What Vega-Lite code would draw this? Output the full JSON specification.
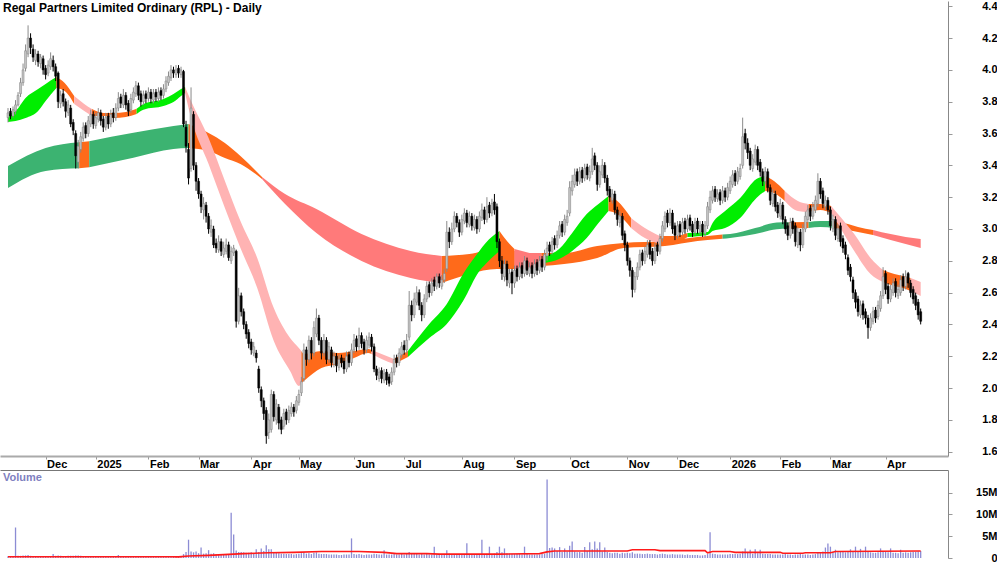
{
"$schema": "https://vega.github.io/schema/vega-lite/v6.json",
"background": "white",
"padding": 0,
"spacing": 1,
"config": {
 "view": {"stroke": null},
 "axis": {"grid": false, "labelFont": "Liberation Sans", "labelFontSize": 11, "labelFontWeight": "bold", "labelColor": "#000000", "domainColor": "#999999", "tickColor": "#999999", "labelOverlap": false},
 "axisY": {"labelAlign": "right", "labelPadding": 45, "tickSize": 4, "labelBaseline": "middle", "labelOverlap": false, "tickCount": 40},
 "axisX": {"tickSize": 3, "labelPadding": -1, "tickCount": 40}
},
"datasets": {
"px": [
{"i":0,"o":3.70,"h":3.76,"l":3.67,"c":3.73,"v":0.4},
{"i":1,"o":3.74,"h":3.76,"l":3.69,"c":3.71,"v":0.3},
{"i":2,"o":3.71,"h":3.77,"l":3.70,"c":3.75,"v":0.3},
{"i":3,"o":3.74,"h":3.81,"l":3.72,"c":3.78,"v":7.0},
{"i":4,"o":3.78,"h":3.86,"l":3.77,"c":3.84,"v":0.5},
{"i":5,"o":3.85,"h":3.95,"l":3.83,"c":3.92,"v":0.5},
{"i":6,"o":3.92,"h":4.04,"l":3.90,"c":4.00,"v":0.6},
{"i":7,"o":4.01,"h":4.16,"l":3.99,"c":4.12,"v":0.6},
{"i":8,"o":4.10,"h":4.28,"l":4.08,"c":4.20,"v":0.7},
{"i":9,"o":4.20,"h":4.23,"l":4.10,"c":4.14,"v":0.5},
{"i":10,"o":4.13,"h":4.16,"l":4.05,"c":4.08,"v":0.4},
{"i":11,"o":4.06,"h":4.13,"l":4.03,"c":4.10,"v":0.4},
{"i":12,"o":4.10,"h":4.12,"l":4.02,"c":4.05,"v":0.4},
{"i":13,"o":4.04,"h":4.10,"l":4.01,"c":4.08,"v":0.3},
{"i":14,"o":4.07,"h":4.09,"l":3.97,"c":4.00,"v":0.4},
{"i":15,"o":4.01,"h":4.03,"l":3.94,"c":3.97,"v":0.4},
{"i":16,"o":3.98,"h":4.06,"l":3.96,"c":4.03,"v":0.3},
{"i":17,"o":4.02,"h":4.11,"l":4.00,"c":4.07,"v":0.4},
{"i":18,"o":4.06,"h":4.09,"l":3.99,"c":4.02,"v":0.9},
{"i":19,"o":4.02,"h":4.04,"l":3.93,"c":3.96,"v":0.5},
{"i":20,"o":3.98,"h":3.99,"l":3.76,"c":3.80,"v":0.6},
{"i":21,"o":3.79,"h":3.87,"l":3.76,"c":3.84,"v":0.5},
{"i":22,"o":3.85,"h":3.88,"l":3.77,"c":3.80,"v":0.4},
{"i":23,"o":3.80,"h":3.82,"l":3.70,"c":3.74,"v":0.4},
{"i":24,"o":3.73,"h":3.81,"l":3.71,"c":3.78,"v":0.5},
{"i":25,"o":3.76,"h":3.78,"l":3.64,"c":3.66,"v":0.5},
{"i":26,"o":3.67,"h":3.69,"l":3.59,"c":3.62,"v":0.5},
{"i":27,"o":3.60,"h":3.62,"l":3.38,"c":3.46,"v":0.6},
{"i":28,"o":3.42,"h":3.56,"l":3.38,"c":3.52,"v":0.6},
{"i":29,"o":3.50,"h":3.61,"l":3.48,"c":3.58,"v":0.5},
{"i":30,"o":3.57,"h":3.67,"l":3.55,"c":3.64,"v":0.4},
{"i":31,"o":3.65,"h":3.67,"l":3.57,"c":3.60,"v":0.4},
{"i":32,"o":3.60,"h":3.71,"l":3.58,"c":3.68,"v":0.4},
{"i":33,"o":3.66,"h":3.75,"l":3.64,"c":3.72,"v":0.4},
{"i":34,"o":3.72,"h":3.74,"l":3.63,"c":3.66,"v":0.3},
{"i":35,"o":3.65,"h":3.73,"l":3.63,"c":3.70,"v":0.3},
{"i":36,"o":3.69,"h":3.76,"l":3.67,"c":3.73,"v":0.3},
{"i":37,"o":3.73,"h":3.75,"l":3.65,"c":3.68,"v":0.4},
{"i":38,"o":3.69,"h":3.71,"l":3.61,"c":3.64,"v":0.4},
{"i":39,"o":3.64,"h":3.73,"l":3.62,"c":3.70,"v":0.3},
{"i":40,"o":3.71,"h":3.73,"l":3.63,"c":3.66,"v":0.3},
{"i":41,"o":3.66,"h":3.75,"l":3.64,"c":3.72,"v":0.4},
{"i":42,"o":3.73,"h":3.76,"l":3.67,"c":3.70,"v":0.3},
{"i":43,"o":3.70,"h":3.79,"l":3.68,"c":3.76,"v":0.4},
{"i":44,"o":3.76,"h":3.86,"l":3.74,"c":3.82,"v":0.7},
{"i":45,"o":3.83,"h":3.85,"l":3.76,"c":3.79,"v":0.4},
{"i":46,"o":3.78,"h":3.88,"l":3.76,"c":3.84,"v":0.4},
{"i":47,"o":3.84,"h":3.86,"l":3.75,"c":3.78,"v":0.3},
{"i":48,"o":3.79,"h":3.81,"l":3.71,"c":3.74,"v":0.3},
{"i":49,"o":3.75,"h":3.85,"l":3.73,"c":3.82,"v":0.4},
{"i":50,"o":3.81,"h":3.89,"l":3.79,"c":3.86,"v":0.4},
{"i":51,"o":3.85,"h":3.93,"l":3.83,"c":3.90,"v":0.4},
{"i":52,"o":3.90,"h":3.92,"l":3.81,"c":3.84,"v":0.3},
{"i":53,"o":3.85,"h":3.87,"l":3.77,"c":3.80,"v":0.3},
{"i":54,"o":3.80,"h":3.87,"l":3.78,"c":3.84,"v":0.3},
{"i":55,"o":3.85,"h":3.87,"l":3.79,"c":3.82,"v":0.3},
{"i":56,"o":3.82,"h":3.89,"l":3.80,"c":3.86,"v":0.3},
{"i":57,"o":3.86,"h":3.88,"l":3.79,"c":3.82,"v":0.3},
{"i":58,"o":3.81,"h":3.88,"l":3.79,"c":3.85,"v":0.3},
{"i":59,"o":3.86,"h":3.88,"l":3.80,"c":3.83,"v":0.3},
{"i":60,"o":3.82,"h":3.89,"l":3.80,"c":3.86,"v":0.3},
{"i":61,"o":3.87,"h":3.89,"l":3.81,"c":3.84,"v":0.3},
{"i":62,"o":3.84,"h":3.91,"l":3.82,"c":3.88,"v":0.4},
{"i":63,"o":3.88,"h":3.96,"l":3.86,"c":3.93,"v":0.4},
{"i":64,"o":3.92,"h":3.99,"l":3.90,"c":3.96,"v":0.4},
{"i":65,"o":3.95,"h":4.03,"l":3.93,"c":4.00,"v":0.3},
{"i":66,"o":4.00,"h":4.02,"l":3.95,"c":3.98,"v":0.3},
{"i":67,"o":3.97,"h":4.03,"l":3.95,"c":4.00,"v":0.3},
{"i":68,"o":4.01,"h":4.03,"l":3.95,"c":3.98,"v":0.3},
{"i":69,"o":3.97,"h":4.02,"l":3.95,"c":4.00,"v":0.4},
{"i":70,"o":3.99,"h":4.00,"l":3.64,"c":3.66,"v":0.9},
{"i":71,"o":3.64,"h":3.68,"l":3.48,"c":3.52,"v":1.4},
{"i":72,"o":3.50,"h":3.54,"l":3.28,"c":3.32,"v":4.2},
{"i":73,"o":3.38,"h":3.89,"l":3.36,"c":3.76,"v":1.5},
{"i":74,"o":3.72,"h":3.74,"l":3.37,"c":3.40,"v":1.3},
{"i":75,"o":3.40,"h":3.42,"l":3.24,"c":3.30,"v":1.5},
{"i":76,"o":3.30,"h":3.32,"l":3.19,"c":3.22,"v":1.1},
{"i":77,"o":3.22,"h":3.24,"l":3.10,"c":3.14,"v":2.4},
{"i":78,"o":3.12,"h":3.20,"l":3.06,"c":3.16,"v":1.0},
{"i":79,"o":3.15,"h":3.17,"l":3.04,"c":3.08,"v":1.1},
{"i":80,"o":3.08,"h":3.10,"l":2.97,"c":3.00,"v":1.8},
{"i":81,"o":2.98,"h":3.06,"l":2.95,"c":3.02,"v":1.0},
{"i":82,"o":3.00,"h":3.02,"l":2.88,"c":2.90,"v":1.1},
{"i":83,"o":2.91,"h":2.94,"l":2.85,"c":2.88,"v":0.9},
{"i":84,"o":2.87,"h":2.96,"l":2.85,"c":2.92,"v":0.9},
{"i":85,"o":2.92,"h":2.94,"l":2.83,"c":2.86,"v":0.8},
{"i":86,"o":2.84,"h":2.92,"l":2.82,"c":2.88,"v":0.8},
{"i":87,"o":2.86,"h":2.94,"l":2.84,"c":2.90,"v":0.9},
{"i":88,"o":2.90,"h":2.92,"l":2.80,"c":2.82,"v":0.8},
{"i":89,"o":2.80,"h":2.89,"l":2.78,"c":2.86,"v":10.4},
{"i":90,"o":2.85,"h":2.90,"l":2.83,"c":2.88,"v":5.4},
{"i":91,"o":2.86,"h":2.87,"l":2.38,"c":2.42,"v":1.7},
{"i":92,"o":2.42,"h":2.63,"l":2.40,"c":2.58,"v":1.4},
{"i":93,"o":2.58,"h":2.60,"l":2.45,"c":2.48,"v":1.4},
{"i":94,"o":2.48,"h":2.50,"l":2.37,"c":2.40,"v":1.3},
{"i":95,"o":2.40,"h":2.42,"l":2.31,"c":2.34,"v":1.2},
{"i":96,"o":2.35,"h":2.37,"l":2.25,"c":2.28,"v":1.2},
{"i":97,"o":2.29,"h":2.31,"l":2.21,"c":2.24,"v":1.3},
{"i":98,"o":2.22,"h":2.29,"l":2.20,"c":2.26,"v":1.1},
{"i":99,"o":2.22,"h":2.24,"l":2.16,"c":2.19,"v":2.0},
{"i":100,"o":2.12,"h":2.14,"l":1.97,"c":2.00,"v":1.4},
{"i":101,"o":1.99,"h":2.01,"l":1.88,"c":1.92,"v":2.2},
{"i":102,"o":1.92,"h":1.94,"l":1.80,"c":1.84,"v":1.6},
{"i":103,"o":1.86,"h":1.88,"l":1.65,"c":1.70,"v":2.9},
{"i":104,"o":1.72,"h":1.84,"l":1.68,"c":1.80,"v":2.0},
{"i":105,"o":1.74,"h":1.99,"l":1.72,"c":1.96,"v":2.0},
{"i":106,"o":1.96,"h":1.98,"l":1.79,"c":1.82,"v":1.4},
{"i":107,"o":1.80,"h":1.93,"l":1.77,"c":1.90,"v":1.3},
{"i":108,"o":1.88,"h":1.90,"l":1.74,"c":1.78,"v":1.1},
{"i":109,"o":1.80,"h":1.82,"l":1.71,"c":1.74,"v":1.0},
{"i":110,"o":1.76,"h":1.87,"l":1.74,"c":1.84,"v":1.0},
{"i":111,"o":1.85,"h":1.87,"l":1.77,"c":1.80,"v":0.9},
{"i":112,"o":1.80,"h":1.89,"l":1.78,"c":1.86,"v":0.9},
{"i":113,"o":1.84,"h":1.91,"l":1.82,"c":1.88,"v":0.9},
{"i":114,"o":1.88,"h":1.90,"l":1.82,"c":1.85,"v":0.8},
{"i":115,"o":1.86,"h":1.95,"l":1.84,"c":1.92,"v":0.9},
{"i":116,"o":1.91,"h":1.99,"l":1.89,"c":1.96,"v":1.0},
{"i":117,"o":1.97,"h":2.07,"l":1.95,"c":2.04,"v":1.1},
{"i":118,"o":2.06,"h":2.28,"l":2.04,"c":2.24,"v":1.3},
{"i":119,"o":2.24,"h":2.26,"l":2.14,"c":2.18,"v":1.0},
{"i":120,"o":2.18,"h":2.33,"l":2.16,"c":2.30,"v":1.1},
{"i":121,"o":2.30,"h":2.32,"l":2.18,"c":2.22,"v":0.9},
{"i":122,"o":2.22,"h":2.42,"l":2.20,"c":2.38,"v":1.2},
{"i":123,"o":2.34,"h":2.50,"l":2.32,"c":2.44,"v":1.3},
{"i":124,"o":2.44,"h":2.46,"l":2.27,"c":2.30,"v":1.0},
{"i":125,"o":2.30,"h":2.32,"l":2.18,"c":2.22,"v":0.9},
{"i":126,"o":2.22,"h":2.34,"l":2.20,"c":2.30,"v":0.9},
{"i":127,"o":2.30,"h":2.32,"l":2.15,"c":2.18,"v":0.9},
{"i":128,"o":2.18,"h":2.29,"l":2.16,"c":2.26,"v":0.8},
{"i":129,"o":2.24,"h":2.26,"l":2.13,"c":2.16,"v":0.8},
{"i":130,"o":2.15,"h":2.23,"l":2.13,"c":2.20,"v":0.8},
{"i":131,"o":2.20,"h":2.22,"l":2.10,"c":2.14,"v":0.8},
{"i":132,"o":2.13,"h":2.21,"l":2.11,"c":2.18,"v":0.7},
{"i":133,"o":2.19,"h":2.21,"l":2.13,"c":2.16,"v":0.7},
{"i":134,"o":2.17,"h":2.19,"l":2.09,"c":2.12,"v":0.8},
{"i":135,"o":2.12,"h":2.23,"l":2.10,"c":2.20,"v":0.8},
{"i":136,"o":2.21,"h":2.23,"l":2.13,"c":2.16,"v":0.8},
{"i":137,"o":2.16,"h":2.28,"l":2.14,"c":2.24,"v":4.5},
{"i":138,"o":2.24,"h":2.34,"l":2.22,"c":2.30,"v":0.9},
{"i":139,"o":2.31,"h":2.33,"l":2.23,"c":2.26,"v":0.8},
{"i":140,"o":2.26,"h":2.38,"l":2.24,"c":2.33,"v":0.9},
{"i":141,"o":2.33,"h":2.35,"l":2.25,"c":2.28,"v":0.8},
{"i":142,"o":2.29,"h":2.31,"l":2.21,"c":2.24,"v":0.7},
{"i":143,"o":2.24,"h":2.33,"l":2.22,"c":2.30,"v":0.8},
{"i":144,"o":2.27,"h":2.35,"l":2.25,"c":2.32,"v":0.8},
{"i":145,"o":2.32,"h":2.34,"l":2.23,"c":2.26,"v":0.8},
{"i":146,"o":2.26,"h":2.28,"l":2.10,"c":2.12,"v":1.0},
{"i":147,"o":2.12,"h":2.14,"l":2.05,"c":2.08,"v":0.9},
{"i":148,"o":2.06,"h":2.13,"l":2.04,"c":2.10,"v":0.8},
{"i":149,"o":2.11,"h":2.13,"l":2.03,"c":2.06,"v":0.8},
{"i":150,"o":2.05,"h":2.12,"l":2.03,"c":2.09,"v":1.8},
{"i":151,"o":2.10,"h":2.12,"l":2.02,"c":2.05,"v":0.8},
{"i":152,"o":2.07,"h":2.09,"l":2.01,"c":2.03,"v":0.8},
{"i":153,"o":2.04,"h":2.13,"l":2.02,"c":2.10,"v":0.8},
{"i":154,"o":2.10,"h":2.21,"l":2.08,"c":2.18,"v":0.9},
{"i":155,"o":2.19,"h":2.21,"l":2.13,"c":2.16,"v":0.8},
{"i":156,"o":2.16,"h":2.25,"l":2.14,"c":2.22,"v":0.8},
{"i":157,"o":2.21,"h":2.29,"l":2.19,"c":2.26,"v":0.9},
{"i":158,"o":2.27,"h":2.30,"l":2.21,"c":2.24,"v":0.8},
{"i":159,"o":2.24,"h":2.34,"l":2.22,"c":2.30,"v":0.9},
{"i":160,"o":2.32,"h":2.61,"l":2.30,"c":2.52,"v":1.4},
{"i":161,"o":2.52,"h":2.55,"l":2.42,"c":2.46,"v":1.0},
{"i":162,"o":2.46,"h":2.60,"l":2.44,"c":2.56,"v":1.0},
{"i":163,"o":2.54,"h":2.64,"l":2.52,"c":2.60,"v":0.9},
{"i":164,"o":2.60,"h":2.62,"l":2.49,"c":2.52,"v":0.8},
{"i":165,"o":2.52,"h":2.54,"l":2.42,"c":2.46,"v":0.9},
{"i":166,"o":2.46,"h":2.59,"l":2.44,"c":2.56,"v":0.8},
{"i":167,"o":2.56,"h":2.67,"l":2.54,"c":2.64,"v":0.9},
{"i":168,"o":2.65,"h":2.67,"l":2.57,"c":2.60,"v":0.8},
{"i":169,"o":2.60,"h":2.69,"l":2.58,"c":2.66,"v":0.8},
{"i":170,"o":2.68,"h":2.70,"l":2.61,"c":2.64,"v":2.6},
{"i":171,"o":2.64,"h":2.72,"l":2.62,"c":2.70,"v":0.8},
{"i":172,"o":2.70,"h":2.72,"l":2.63,"c":2.66,"v":0.8},
{"i":173,"o":2.64,"h":2.71,"l":2.62,"c":2.68,"v":0.8},
{"i":174,"o":2.68,"h":2.75,"l":2.66,"c":2.72,"v":0.9},
{"i":175,"o":2.75,"h":3.05,"l":2.73,"c":2.98,"v":1.8},
{"i":176,"o":2.98,"h":3.01,"l":2.88,"c":2.92,"v":1.0},
{"i":177,"o":2.92,"h":3.04,"l":2.90,"c":3.00,"v":0.9},
{"i":178,"o":3.00,"h":3.11,"l":2.98,"c":3.08,"v":0.9},
{"i":179,"o":3.08,"h":3.10,"l":3.01,"c":3.04,"v":0.8},
{"i":180,"o":3.04,"h":3.06,"l":2.95,"c":2.98,"v":0.8},
{"i":181,"o":2.98,"h":3.09,"l":2.96,"c":3.06,"v":0.8},
{"i":182,"o":3.05,"h":3.13,"l":3.03,"c":3.10,"v":0.9},
{"i":183,"o":3.10,"h":3.12,"l":3.01,"c":3.04,"v":3.4},
{"i":184,"o":3.03,"h":3.11,"l":3.01,"c":3.08,"v":0.9},
{"i":185,"o":3.08,"h":3.10,"l":2.99,"c":3.02,"v":0.8},
{"i":186,"o":3.01,"h":3.09,"l":2.99,"c":3.06,"v":0.8},
{"i":187,"o":3.06,"h":3.08,"l":2.97,"c":3.00,"v":0.8},
{"i":188,"o":3.00,"h":3.11,"l":2.98,"c":3.08,"v":0.9},
{"i":189,"o":3.07,"h":3.16,"l":3.05,"c":3.12,"v":4.2},
{"i":190,"o":3.12,"h":3.14,"l":3.03,"c":3.06,"v":0.9},
{"i":191,"o":3.06,"h":3.20,"l":3.04,"c":3.14,"v":1.0},
{"i":192,"o":3.15,"h":3.17,"l":3.07,"c":3.10,"v":2.6},
{"i":193,"o":3.10,"h":3.19,"l":3.08,"c":3.16,"v":0.9},
{"i":194,"o":3.17,"h":3.22,"l":3.09,"c":3.12,"v":1.0},
{"i":195,"o":3.14,"h":3.16,"l":2.88,"c":2.92,"v":1.4},
{"i":196,"o":2.92,"h":2.94,"l":2.76,"c":2.80,"v":2.6},
{"i":197,"o":2.80,"h":2.83,"l":2.68,"c":2.72,"v":1.3},
{"i":198,"o":2.70,"h":2.81,"l":2.67,"c":2.78,"v":2.2},
{"i":199,"o":2.78,"h":2.80,"l":2.64,"c":2.68,"v":1.1},
{"i":200,"o":2.66,"h":2.75,"l":2.63,"c":2.72,"v":1.0},
{"i":201,"o":2.73,"h":2.75,"l":2.59,"c":2.66,"v":1.0},
{"i":202,"o":2.66,"h":2.77,"l":2.63,"c":2.74,"v":0.9},
{"i":203,"o":2.75,"h":2.77,"l":2.67,"c":2.70,"v":0.9},
{"i":204,"o":2.70,"h":2.79,"l":2.68,"c":2.76,"v":0.9},
{"i":205,"o":2.77,"h":2.79,"l":2.69,"c":2.72,"v":0.8},
{"i":206,"o":2.72,"h":2.83,"l":2.70,"c":2.80,"v":2.6},
{"i":207,"o":2.80,"h":2.82,"l":2.71,"c":2.74,"v":0.9},
{"i":208,"o":2.72,"h":2.79,"l":2.70,"c":2.76,"v":0.8},
{"i":209,"o":2.77,"h":2.79,"l":2.69,"c":2.72,"v":0.8},
{"i":210,"o":2.72,"h":2.81,"l":2.70,"c":2.78,"v":0.8},
{"i":211,"o":2.79,"h":2.81,"l":2.71,"c":2.74,"v":0.8},
{"i":212,"o":2.74,"h":2.83,"l":2.72,"c":2.80,"v":0.8},
{"i":213,"o":2.81,"h":2.83,"l":2.73,"c":2.76,"v":0.9},
{"i":214,"o":2.76,"h":2.87,"l":2.74,"c":2.84,"v":1.0},
{"i":215,"o":2.83,"h":2.92,"l":2.80,"c":2.88,"v":18.0},
{"i":216,"o":2.90,"h":2.92,"l":2.83,"c":2.86,"v":2.3},
{"i":217,"o":2.86,"h":2.95,"l":2.84,"c":2.92,"v":2.4},
{"i":218,"o":2.94,"h":2.96,"l":2.87,"c":2.90,"v":2.2},
{"i":219,"o":2.90,"h":2.99,"l":2.88,"c":2.96,"v":1.6},
{"i":220,"o":2.96,"h":3.05,"l":2.94,"c":3.02,"v":2.5},
{"i":221,"o":3.03,"h":3.05,"l":2.95,"c":2.98,"v":1.4},
{"i":222,"o":2.98,"h":3.09,"l":2.96,"c":3.06,"v":2.2},
{"i":223,"o":3.04,"h":3.12,"l":3.02,"c":3.08,"v":1.5},
{"i":224,"o":3.10,"h":3.30,"l":3.08,"c":3.26,"v":2.8},
{"i":225,"o":3.24,"h":3.34,"l":3.21,"c":3.30,"v":3.8},
{"i":226,"o":3.28,"h":3.38,"l":3.26,"c":3.34,"v":1.5},
{"i":227,"o":3.36,"h":3.38,"l":3.27,"c":3.30,"v":1.3},
{"i":228,"o":3.30,"h":3.39,"l":3.28,"c":3.36,"v":1.4},
{"i":229,"o":3.37,"h":3.39,"l":3.29,"c":3.32,"v":1.2},
{"i":230,"o":3.32,"h":3.41,"l":3.30,"c":3.38,"v":2.5},
{"i":231,"o":3.39,"h":3.41,"l":3.31,"c":3.34,"v":1.6},
{"i":232,"o":3.32,"h":3.40,"l":3.30,"c":3.36,"v":3.6},
{"i":233,"o":3.36,"h":3.51,"l":3.34,"c":3.44,"v":2.0},
{"i":234,"o":3.46,"h":3.48,"l":3.37,"c":3.40,"v":3.8},
{"i":235,"o":3.40,"h":3.42,"l":3.24,"c":3.28,"v":2.2},
{"i":236,"o":3.28,"h":3.40,"l":3.26,"c":3.36,"v":3.6},
{"i":237,"o":3.34,"h":3.44,"l":3.32,"c":3.40,"v":1.5},
{"i":238,"o":3.40,"h":3.42,"l":3.29,"c":3.32,"v":2.4},
{"i":239,"o":3.32,"h":3.34,"l":3.21,"c":3.24,"v":1.4},
{"i":240,"o":3.25,"h":3.27,"l":3.17,"c":3.20,"v":1.2},
{"i":241,"o":3.18,"h":3.25,"l":3.16,"c":3.22,"v":1.1},
{"i":242,"o":3.22,"h":3.24,"l":3.09,"c":3.12,"v":1.2},
{"i":243,"o":3.12,"h":3.14,"l":3.02,"c":3.06,"v":1.2},
{"i":244,"o":3.04,"h":3.11,"l":3.01,"c":3.08,"v":1.0},
{"i":245,"o":3.08,"h":3.10,"l":2.93,"c":2.96,"v":1.2},
{"i":246,"o":2.97,"h":2.99,"l":2.86,"c":2.90,"v":1.1},
{"i":247,"o":2.90,"h":2.92,"l":2.77,"c":2.80,"v":1.2},
{"i":248,"o":2.80,"h":2.82,"l":2.70,"c":2.74,"v":1.1},
{"i":249,"o":2.74,"h":2.76,"l":2.57,"c":2.62,"v":1.3},
{"i":250,"o":2.62,"h":2.73,"l":2.60,"c":2.70,"v":1.0},
{"i":251,"o":2.70,"h":2.79,"l":2.68,"c":2.76,"v":1.0},
{"i":252,"o":2.76,"h":2.87,"l":2.74,"c":2.84,"v":1.0},
{"i":253,"o":2.85,"h":2.87,"l":2.77,"c":2.80,"v":0.9},
{"i":254,"o":2.80,"h":2.89,"l":2.78,"c":2.86,"v":0.9},
{"i":255,"o":2.84,"h":2.93,"l":2.82,"c":2.90,"v":1.0},
{"i":256,"o":2.91,"h":2.93,"l":2.81,"c":2.84,"v":0.9},
{"i":257,"o":2.86,"h":2.88,"l":2.77,"c":2.80,"v":0.9},
{"i":258,"o":2.80,"h":2.91,"l":2.78,"c":2.88,"v":0.9},
{"i":259,"o":2.90,"h":2.92,"l":2.83,"c":2.86,"v":0.8},
{"i":260,"o":2.86,"h":2.97,"l":2.84,"c":2.94,"v":0.9},
{"i":261,"o":2.94,"h":3.05,"l":2.92,"c":3.02,"v":1.0},
{"i":262,"o":3.00,"h":3.11,"l":2.98,"c":3.08,"v":0.9},
{"i":263,"o":3.10,"h":3.12,"l":3.01,"c":3.04,"v":0.8},
{"i":264,"o":3.04,"h":3.13,"l":3.02,"c":3.10,"v":0.8},
{"i":265,"o":3.10,"h":3.12,"l":2.97,"c":3.00,"v":0.9},
{"i":266,"o":3.02,"h":3.04,"l":2.93,"c":2.96,"v":0.8},
{"i":267,"o":2.96,"h":3.05,"l":2.94,"c":3.02,"v":0.8},
{"i":268,"o":3.03,"h":3.05,"l":2.95,"c":2.98,"v":0.8},
{"i":269,"o":2.98,"h":3.07,"l":2.96,"c":3.04,"v":0.8},
{"i":270,"o":3.05,"h":3.07,"l":2.97,"c":3.00,"v":0.7},
{"i":271,"o":3.00,"h":3.09,"l":2.98,"c":3.06,"v":0.8},
{"i":272,"o":3.07,"h":3.09,"l":2.99,"c":3.02,"v":0.7},
{"i":273,"o":3.03,"h":3.05,"l":2.95,"c":2.98,"v":0.7},
{"i":274,"o":2.98,"h":3.07,"l":2.96,"c":3.04,"v":0.7},
{"i":275,"o":3.05,"h":3.07,"l":2.97,"c":3.00,"v":0.7},
{"i":276,"o":2.98,"h":3.05,"l":2.96,"c":3.02,"v":0.6},
{"i":277,"o":3.03,"h":3.05,"l":2.95,"c":2.98,"v":0.6},
{"i":278,"o":2.97,"h":3.05,"l":2.95,"c":3.02,"v":0.7},
{"i":279,"o":3.02,"h":3.17,"l":3.00,"c":3.14,"v":0.9},
{"i":280,"o":3.12,"h":3.24,"l":3.10,"c":3.20,"v":5.9},
{"i":281,"o":3.18,"h":3.27,"l":3.16,"c":3.24,"v":1.0},
{"i":282,"o":3.25,"h":3.27,"l":3.17,"c":3.20,"v":0.9},
{"i":283,"o":3.19,"h":3.25,"l":3.17,"c":3.22,"v":0.8},
{"i":284,"o":3.23,"h":3.25,"l":3.15,"c":3.18,"v":0.8},
{"i":285,"o":3.18,"h":3.27,"l":3.16,"c":3.24,"v":0.8},
{"i":286,"o":3.24,"h":3.26,"l":3.17,"c":3.20,"v":0.8},
{"i":287,"o":3.20,"h":3.29,"l":3.18,"c":3.26,"v":0.8},
{"i":288,"o":3.24,"h":3.33,"l":3.22,"c":3.30,"v":0.9},
{"i":289,"o":3.28,"h":3.37,"l":3.26,"c":3.34,"v":0.9},
{"i":290,"o":3.35,"h":3.37,"l":3.27,"c":3.30,"v":0.9},
{"i":291,"o":3.30,"h":3.39,"l":3.28,"c":3.36,"v":0.9},
{"i":292,"o":3.33,"h":3.41,"l":3.31,"c":3.38,"v":1.0},
{"i":293,"o":3.40,"h":3.70,"l":3.38,"c":3.58,"v":1.5},
{"i":294,"o":3.60,"h":3.63,"l":3.50,"c":3.54,"v":2.2},
{"i":295,"o":3.54,"h":3.57,"l":3.44,"c":3.48,"v":1.2},
{"i":296,"o":3.49,"h":3.51,"l":3.37,"c":3.40,"v":1.9},
{"i":297,"o":3.38,"h":3.47,"l":3.36,"c":3.44,"v":1.0},
{"i":298,"o":3.42,"h":3.53,"l":3.40,"c":3.50,"v":2.0},
{"i":299,"o":3.50,"h":3.52,"l":3.37,"c":3.40,"v":1.1},
{"i":300,"o":3.42,"h":3.44,"l":3.33,"c":3.36,"v":1.9},
{"i":301,"o":3.36,"h":3.38,"l":3.27,"c":3.30,"v":1.0},
{"i":302,"o":3.30,"h":3.39,"l":3.28,"c":3.36,"v":0.9},
{"i":303,"o":3.36,"h":3.38,"l":3.23,"c":3.26,"v":0.9},
{"i":304,"o":3.26,"h":3.28,"l":3.15,"c":3.18,"v":0.9},
{"i":305,"o":3.16,"h":3.25,"l":3.14,"c":3.22,"v":0.8},
{"i":306,"o":3.22,"h":3.24,"l":3.11,"c":3.14,"v":0.8},
{"i":307,"o":3.15,"h":3.17,"l":3.07,"c":3.10,"v":0.8},
{"i":308,"o":3.08,"h":3.19,"l":3.06,"c":3.16,"v":0.8},
{"i":309,"o":3.15,"h":3.17,"l":3.03,"c":3.06,"v":0.8},
{"i":310,"o":3.06,"h":3.08,"l":2.97,"c":3.00,"v":0.9},
{"i":311,"o":3.02,"h":3.04,"l":2.93,"c":2.96,"v":0.8},
{"i":312,"o":2.96,"h":3.07,"l":2.94,"c":3.04,"v":0.8},
{"i":313,"o":3.05,"h":3.07,"l":2.97,"c":3.00,"v":0.7},
{"i":314,"o":3.02,"h":3.04,"l":2.89,"c":2.92,"v":0.8},
{"i":315,"o":2.90,"h":3.01,"l":2.88,"c":2.98,"v":0.8},
{"i":316,"o":2.98,"h":3.00,"l":2.86,"c":2.90,"v":0.9},
{"i":317,"o":2.90,"h":3.03,"l":2.88,"c":3.00,"v":0.8},
{"i":318,"o":3.00,"h":3.11,"l":2.98,"c":3.08,"v":0.8},
{"i":319,"o":3.06,"h":3.15,"l":3.04,"c":3.12,"v":0.8},
{"i":320,"o":3.13,"h":3.15,"l":3.05,"c":3.08,"v":0.7},
{"i":321,"o":3.08,"h":3.17,"l":3.06,"c":3.14,"v":0.8},
{"i":322,"o":3.12,"h":3.21,"l":3.10,"c":3.18,"v":0.9},
{"i":323,"o":3.16,"h":3.35,"l":3.14,"c":3.30,"v":1.2},
{"i":324,"o":3.30,"h":3.32,"l":3.19,"c":3.22,"v":1.3},
{"i":325,"o":3.24,"h":3.26,"l":3.13,"c":3.16,"v":1.5},
{"i":326,"o":3.14,"h":3.21,"l":3.12,"c":3.18,"v":2.4},
{"i":327,"o":3.18,"h":3.20,"l":3.09,"c":3.12,"v":3.3},
{"i":328,"o":3.12,"h":3.14,"l":2.99,"c":3.02,"v":2.6},
{"i":329,"o":3.00,"h":3.09,"l":2.98,"c":3.06,"v":1.4},
{"i":330,"o":3.06,"h":3.08,"l":2.93,"c":2.96,"v":1.9},
{"i":331,"o":2.94,"h":3.03,"l":2.92,"c":3.00,"v":1.3},
{"i":332,"o":3.02,"h":3.04,"l":2.89,"c":2.92,"v":1.5},
{"i":333,"o":2.94,"h":2.96,"l":2.85,"c":2.88,"v":1.4},
{"i":334,"o":2.90,"h":2.92,"l":2.81,"c":2.84,"v":1.3},
{"i":335,"o":2.82,"h":2.84,"l":2.71,"c":2.74,"v":1.6},
{"i":336,"o":2.76,"h":2.78,"l":2.67,"c":2.70,"v":2.0},
{"i":337,"o":2.68,"h":2.70,"l":2.56,"c":2.60,"v":1.5},
{"i":338,"o":2.60,"h":2.62,"l":2.50,"c":2.54,"v":2.6},
{"i":339,"o":2.56,"h":2.58,"l":2.45,"c":2.48,"v":1.4},
{"i":340,"o":2.46,"h":2.55,"l":2.44,"c":2.52,"v":2.1},
{"i":341,"o":2.53,"h":2.55,"l":2.43,"c":2.46,"v":1.3},
{"i":342,"o":2.48,"h":2.50,"l":2.40,"c":2.44,"v":2.6},
{"i":343,"o":2.44,"h":2.46,"l":2.31,"c":2.38,"v":1.5},
{"i":344,"o":2.38,"h":2.47,"l":2.36,"c":2.44,"v":1.3},
{"i":345,"o":2.42,"h":2.51,"l":2.40,"c":2.48,"v":1.2},
{"i":346,"o":2.49,"h":2.51,"l":2.41,"c":2.44,"v":1.2},
{"i":347,"o":2.45,"h":2.55,"l":2.43,"c":2.52,"v":1.3},
{"i":348,"o":2.50,"h":2.61,"l":2.48,"c":2.58,"v":2.2},
{"i":349,"o":2.58,"h":2.76,"l":2.56,"c":2.70,"v":1.5},
{"i":350,"o":2.72,"h":2.74,"l":2.59,"c":2.62,"v":1.4},
{"i":351,"o":2.64,"h":2.66,"l":2.53,"c":2.56,"v":1.3},
{"i":352,"o":2.56,"h":2.65,"l":2.54,"c":2.62,"v":2.2},
{"i":353,"o":2.60,"h":2.69,"l":2.58,"c":2.66,"v":1.2},
{"i":354,"o":2.67,"h":2.69,"l":2.57,"c":2.60,"v":1.2},
{"i":355,"o":2.58,"h":2.65,"l":2.56,"c":2.62,"v":1.1},
{"i":356,"o":2.60,"h":2.71,"l":2.58,"c":2.68,"v":1.9},
{"i":357,"o":2.70,"h":2.72,"l":2.61,"c":2.64,"v":1.2},
{"i":358,"o":2.64,"h":2.74,"l":2.62,"c":2.70,"v":1.3},
{"i":359,"o":2.72,"h":2.73,"l":2.63,"c":2.66,"v":1.2},
{"i":360,"o":2.66,"h":2.68,"l":2.57,"c":2.60,"v":1.3},
{"i":361,"o":2.62,"h":2.64,"l":2.53,"c":2.56,"v":1.4},
{"i":362,"o":2.58,"h":2.60,"l":2.49,"c":2.52,"v":1.4},
{"i":363,"o":2.54,"h":2.56,"l":2.43,"c":2.46,"v":1.5},
{"i":364,"o":2.48,"h":2.50,"l":2.40,"c":2.42,"v":1.6}
],
"lb": [
{"g":1,"k":"D","i":0,"u":3.396,"d":3.258},
{"g":1,"k":"D","i":15,"u":3.509,"d":3.365},
{"g":1,"k":"D","i":28.4,"u":3.545,"d":3.382},
{"g":2,"k":"O","i":28.4,"u":3.545,"d":3.382},
{"g":2,"k":"O","i":32.4,"u":3.552,"d":3.388},
{"g":3,"k":"D","i":32.4,"u":3.552,"d":3.388},
{"g":3,"k":"D","i":50,"u":3.605,"d":3.448},
{"g":3,"k":"D","i":66,"u":3.647,"d":3.503},
{"g":3,"k":"D","i":72,"u":3.660,"d":3.509},
{"g":4,"k":"O","i":72,"u":3.660,"d":3.509},
{"g":4,"k":"O","i":80,"u":3.604,"d":3.490},
{"g":4,"k":"O","i":86.5,"u":3.541,"d":3.446},
{"g":4,"k":"O","i":92.7,"u":3.459,"d":3.409},
{"g":4,"k":"O","i":101.3,"u":3.327,"d":3.314},
{"g":5,"k":"R","i":101.3,"u":3.327,"d":3.314},
{"g":5,"k":"R","i":110.5,"u":3.220,"d":3.157},
{"g":5,"k":"R","i":123,"u":3.126,"d":2.975},
{"g":5,"k":"R","i":141,"u":2.969,"d":2.799},
{"g":5,"k":"R","i":160.6,"u":2.862,"d":2.692},
{"g":5,"k":"R","i":173,"u":2.830,"d":2.660},
{"g":6,"k":"O","i":173,"u":2.830,"d":2.660},
{"g":6,"k":"O","i":184,"u":2.843,"d":2.717},
{"g":6,"k":"O","i":195,"u":2.874,"d":2.748},
{"g":6,"k":"O","i":202,"u":2.862,"d":2.748},
{"g":7,"k":"R","i":202,"u":2.862,"d":2.748},
{"g":7,"k":"R","i":208,"u":2.849,"d":2.755},
{"g":7,"k":"R","i":212.7,"u":2.849,"d":2.767},
{"g":8,"k":"O","i":212.7,"u":2.849,"d":2.767},
{"g":8,"k":"O","i":221.8,"u":2.849,"d":2.780},
{"g":8,"k":"O","i":235,"u":2.893,"d":2.818},
{"g":8,"k":"O","i":245.5,"u":2.912,"d":2.881},
{"g":8,"k":"O","i":262,"u":2.924,"d":2.893},
{"g":8,"k":"O","i":275,"u":2.950,"d":2.924},
{"g":8,"k":"O","i":285,"u":2.966,"d":2.938},
{"g":9,"k":"D","i":285,"u":2.966,"d":2.938},
{"g":9,"k":"D","i":288,"u":2.969,"d":2.943},
{"g":9,"k":"D","i":298,"u":3.006,"d":2.968},
{"g":9,"k":"D","i":306.6,"u":3.040,"d":2.998},
{"g":9,"k":"D","i":311.4,"u":3.042,"d":3.003},
{"g":10,"k":"O","i":311.4,"u":3.042,"d":3.003},
{"g":10,"k":"O","i":319.3,"u":3.044,"d":3.006},
{"g":11,"k":"D","i":319.3,"u":3.044,"d":3.006},
{"g":11,"k":"D","i":324,"u":3.050,"d":3.013},
{"g":11,"k":"D","i":329.4,"u":3.050,"d":3.006},
{"g":12,"k":"O","i":329.4,"u":3.050,"d":3.006},
{"g":12,"k":"O","i":335,"u":3.031,"d":2.994},
{"g":12,"k":"O","i":339,"u":3.013,"d":2.981},
{"g":12,"k":"O","i":345,"u":2.994,"d":2.962},
{"g":13,"k":"R","i":345,"u":2.994,"d":2.962},
{"g":13,"k":"R","i":352,"u":2.968,"d":2.931},
{"g":13,"k":"R","i":358,"u":2.950,"d":2.906},
{"g":13,"k":"R","i":364,"u":2.937,"d":2.881}
],
"sb": [
{"g":1,"k":"G","i":0,"u":3.723,"d":3.673},
{"g":1,"k":"G","i":3,"u":3.742,"d":3.679},
{"g":1,"k":"G","i":7,"u":3.824,"d":3.698},
{"g":1,"k":"G","i":12,"u":3.880,"d":3.742},
{"g":1,"k":"G","i":15,"u":3.912,"d":3.805},
{"g":1,"k":"G","i":19.3,"u":3.955,"d":3.886},
{"g":2,"k":"O","i":19.3,"u":3.955,"d":3.886},
{"g":2,"k":"O","i":22.6,"u":3.918,"d":3.868},
{"g":2,"k":"O","i":26.4,"u":3.836,"d":3.786},
{"g":3,"k":"P","i":26.4,"u":3.836,"d":3.786},
{"g":3,"k":"P","i":30.4,"u":3.786,"d":3.742},
{"g":3,"k":"P","i":33.5,"u":3.754,"d":3.710},
{"g":4,"k":"O","i":33.5,"u":3.754,"d":3.710},
{"g":4,"k":"O","i":38.3,"u":3.729,"d":3.710},
{"g":4,"k":"O","i":42.2,"u":3.729,"d":3.698},
{"g":4,"k":"O","i":47,"u":3.735,"d":3.704},
{"g":4,"k":"O","i":51.3,"u":3.755,"d":3.722},
{"g":5,"k":"G","i":51.3,"u":3.755,"d":3.722},
{"g":5,"k":"G","i":54,"u":3.786,"d":3.750},
{"g":5,"k":"G","i":62,"u":3.817,"d":3.773},
{"g":5,"k":"G","i":66,"u":3.849,"d":3.798},
{"g":5,"k":"G","i":69,"u":3.880,"d":3.836},
{"g":5,"k":"G","i":70.6,"u":3.893,"d":3.855},
{"g":6,"k":"P","i":70.6,"u":3.893,"d":3.855},
{"g":6,"k":"P","i":73,"u":3.805,"d":3.698},
{"g":6,"k":"P","i":80,"u":3.572,"d":3.408},
{"g":6,"k":"P","i":86.5,"u":3.302,"d":3.132},
{"g":6,"k":"P","i":92.7,"u":3.050,"d":2.881},
{"g":6,"k":"P","i":99.4,"u":2.818,"d":2.629},
{"g":6,"k":"P","i":106,"u":2.503,"d":2.296},
{"g":6,"k":"P","i":112.5,"u":2.315,"d":2.107},
{"g":6,"k":"P","i":116,"u":2.252,"d":2.013},
{"g":6,"k":"P","i":117,"u":2.233,"d":2.030},
{"g":7,"k":"O","i":117,"u":2.233,"d":2.030},
{"g":7,"k":"O","i":118,"u":2.214,"d":2.044},
{"g":7,"k":"O","i":125,"u":2.233,"d":2.126},
{"g":7,"k":"O","i":131.8,"u":2.220,"d":2.151},
{"g":7,"k":"O","i":138,"u":2.233,"d":2.189},
{"g":7,"k":"O","i":143.6,"u":2.246,"d":2.220},
{"g":7,"k":"O","i":145,"u":2.239,"d":2.214},
{"g":8,"k":"P","i":145,"u":2.239,"d":2.214},
{"g":8,"k":"P","i":149,"u":2.214,"d":2.183},
{"g":8,"k":"P","i":154,"u":2.183,"d":2.151},
{"g":9,"k":"O","i":154,"u":2.183,"d":2.151},
{"g":9,"k":"O","i":159.5,"u":2.233,"d":2.195},
{"g":10,"k":"G","i":159.5,"u":2.233,"d":2.195},
{"g":10,"k":"G","i":168,"u":2.403,"d":2.315},
{"g":10,"k":"G","i":175,"u":2.529,"d":2.403},
{"g":10,"k":"G","i":181.5,"u":2.717,"d":2.547},
{"g":10,"k":"G","i":188,"u":2.862,"d":2.736},
{"g":10,"k":"G","i":190.5,"u":2.912,"d":2.780},
{"g":10,"k":"G","i":196,"u":2.987,"d":2.862},
{"g":11,"k":"O","i":196,"u":2.987,"d":2.862},
{"g":11,"k":"O","i":199,"u":2.924,"d":2.799},
{"g":11,"k":"O","i":202,"u":2.874,"d":2.767},
{"g":12,"k":"R","i":202,"u":2.874,"d":2.767},
{"g":12,"k":"R","i":208,"u":2.849,"d":2.748},
{"g":12,"k":"R","i":214,"u":2.830,"d":2.786},
{"g":13,"k":"G","i":214,"u":2.830,"d":2.786},
{"g":13,"k":"G","i":219.8,"u":2.874,"d":2.811},
{"g":13,"k":"G","i":225,"u":2.975,"d":2.862},
{"g":13,"k":"G","i":230.8,"u":3.094,"d":2.943},
{"g":13,"k":"G","i":235.5,"u":3.157,"d":3.038},
{"g":13,"k":"G","i":239.5,"u":3.207,"d":3.113},
{"g":14,"k":"O","i":239.5,"u":3.207,"d":3.113},
{"g":14,"k":"O","i":243,"u":3.176,"d":3.094},
{"g":14,"k":"O","i":248.5,"u":3.069,"d":3.006},
{"g":15,"k":"P","i":248.5,"u":3.069,"d":3.006},
{"g":15,"k":"P","i":254,"u":3.006,"d":2.943},
{"g":15,"k":"P","i":260,"u":2.956,"d":2.906},
{"g":16,"k":"O","i":260,"u":2.956,"d":2.906},
{"g":16,"k":"O","i":266,"u":2.956,"d":2.912},
{"g":16,"k":"O","i":271,"u":2.975,"d":2.950},
{"g":17,"k":"G","i":271,"u":2.975,"d":2.950},
{"g":17,"k":"G","i":279,"u":2.981,"d":2.962},
{"g":17,"k":"G","i":281,"u":3.038,"d":2.987},
{"g":17,"k":"G","i":286,"u":3.113,"d":3.006},
{"g":17,"k":"G","i":292,"u":3.195,"d":3.069},
{"g":17,"k":"G","i":298.5,"u":3.314,"d":3.195},
{"g":17,"k":"G","i":302,"u":3.333,"d":3.239},
{"g":18,"k":"O","i":302,"u":3.333,"d":3.239},
{"g":18,"k":"O","i":305.5,"u":3.302,"d":3.226},
{"g":18,"k":"O","i":309.8,"u":3.239,"d":3.176},
{"g":19,"k":"P","i":309.8,"u":3.239,"d":3.176},
{"g":19,"k":"P","i":315,"u":3.176,"d":3.113},
{"g":19,"k":"P","i":319.3,"u":3.157,"d":3.107},
{"g":20,"k":"O","i":319.3,"u":3.157,"d":3.107},
{"g":20,"k":"O","i":324,"u":3.157,"d":3.119},
{"g":20,"k":"O","i":328.3,"u":3.145,"d":3.101},
{"g":21,"k":"P","i":328.3,"u":3.145,"d":3.101},
{"g":21,"k":"P","i":331,"u":3.094,"d":3.031},
{"g":21,"k":"P","i":337.5,"u":2.968,"d":2.862},
{"g":21,"k":"P","i":344,"u":2.818,"d":2.717},
{"g":21,"k":"P","i":349,"u":2.742,"d":2.667},
{"g":22,"k":"O","i":349,"u":2.742,"d":2.667},
{"g":22,"k":"O","i":353.5,"u":2.717,"d":2.642},
{"g":22,"k":"O","i":357,"u":2.704,"d":2.629},
{"g":22,"k":"O","i":360,"u":2.692,"d":2.610},
{"g":23,"k":"P","i":360,"u":2.692,"d":2.610},
{"g":23,"k":"P","i":364,"u":2.667,"d":2.579}
],
"vma": [
{"i":0,"m":0.3},{"i":65,"m":0.3},{"i":68,"m":0.25},{"i":72,"m":0.45},{"i":80,"m":0.6},{"i":90,"m":0.9},{"i":94,"m":1.0},{"i":104,"m":1.2},{"i":114,"m":1.3},{"i":125,"m":1.5},{"i":140,"m":1.5},{"i":150,"m":1.3},{"i":155,"m":1.0},{"i":167,"m":1.0},{"i":172,"m":0.9},{"i":196,"m":0.9},{"i":212,"m":1.0},{"i":215,"m":1.4},{"i":218,"m":1.6},{"i":247,"m":1.6},{"i":249,"m":1.9},{"i":258,"m":1.9},{"i":260,"m":1.7},{"i":278,"m":1.7},{"i":279,"m":1.2},{"i":281,"m":1.5},{"i":288,"m":1.5},{"i":290,"m":1.3},{"i":308,"m":1.3},{"i":309,"m":1.1},{"i":317,"m":1.1},{"i":318,"m":1.2},{"i":328,"m":1.2},{"i":330,"m":1.5},{"i":364,"m":1.6}
]
},
"vconcat": [
{
 "width": 948, "height": 455,
 "title": {"text": "Regal Partners Limited Ordinary (RPL) - Daily", "anchor": "start", "orient": "top", "offset": -15, "dx": 3, "font": "Liberation Sans", "fontSize": 12, "fontWeight": "bold", "color": "#000000"},
 "layer": [
  {"data": {"name": "lb"}, "mark": {"type": "area", "interpolate": "monotone"},
   "encoding": {
    "x": {"field": "i", "type": "quantitative", "scale": {"domain": [-1.2, 372.9], "nice": false, "zero": false},
          "axis": {"orient": "bottom", "title": null, "tickCount": 40, "values": [15,35,56,76,97,116,138,158,181,202,224,247,267,288,308,328,350],
                   "labelExpr": "['Dec','2025','Feb','Mar','Apr','May','Jun','Jul','Aug','Sep','Oct','Nov','Dec','2026','Feb','Mar','Apr'][indexof([15,35,56,76,97,116,138,158,181,202,224,247,267,288,308,328,350], datum.value)]",
                   "labelAlign": "left", "labelOffset": 1, "labelBaseline": "top", "labelFlush": false, "labelOverlap": false, "domainWidth": 2, "domainColor": "#aaaaaa"}},
    "y": {"field": "u", "type": "quantitative", "scale": {"domain": [1.573, 4.433], "nice": false, "zero": false},
          "axis": {"orient": "right", "title": null, "tickCount": 40, "values": [1.6,1.8,2.0,2.2,2.4,2.6,2.8,3.0,3.2,3.4,3.6,3.8,4.0,4.2,4.4], "format": ".1f", "labelOverlap": false, "domainColor": "#888888"}},
    "y2": {"field": "d"},
    "color": {"field": "k", "type": "nominal", "scale": {"domain": ["G","D","O","P","R"], "range": ["#00ee00","#3cb371","#ff6a1a","#ffb3b3","#ff7a7a"]}, "legend": null},
    "detail": {"field": "g"}
   }},
  {"data": {"name": "sb"}, "mark": {"type": "area", "interpolate": "monotone"},
   "encoding": {
    "x": {"field": "i", "type": "quantitative"},
    "y": {"field": "u", "type": "quantitative"},
    "y2": {"field": "d"},
    "color": {"field": "k", "type": "nominal", "scale": {"domain": ["G","D","O","P","R"], "range": ["#00ee00","#3cb371","#ff6a1a","#ffb3b3","#ff7a7a"]}, "legend": null},
    "detail": {"field": "g"}
   }},
  {"data": {"name": "px"}, "mark": {"type": "rule", "strokeWidth": 1},
   "encoding": {
    "x": {"field": "i", "type": "quantitative"},
    "y": {"field": "l", "type": "quantitative"},
    "y2": {"field": "h"},
    "color": {"condition": {"test": "datum.c > datum.o", "value": "#8a8a8a"}, "value": "#000000"}
   }},
  {"data": {"name": "px"}, "mark": {"type": "bar", "size": 2, "strokeWidth": 0.5},
   "encoding": {
    "x": {"field": "i", "type": "quantitative"},
    "y": {"field": "o", "type": "quantitative"},
    "y2": {"field": "c"},
    "color": {"condition": {"test": "datum.c > datum.o", "value": "#c4c4c4"}, "value": "#000000"},
    "stroke": {"condition": {"test": "datum.c > datum.o", "value": "#808080"}, "value": "#000000"}
   }}
 ]
},
{
 "width": 948, "height": 88,
 "title": {"text": "Volume", "anchor": "start", "orient": "top", "offset": -13, "dx": 3, "font": "Liberation Sans", "fontSize": 11, "fontWeight": "bold", "color": "#8080c0"},
 "layer": [
  {"data": {"name": "px"}, "mark": {"type": "bar", "size": 1.3, "color": "#8c8cd4"},
   "encoding": {
    "x": {"field": "i", "type": "quantitative", "scale": {"domain": [-1.2, 372.9], "nice": false, "zero": false},
          "axis": {"orient": "top", "title": null, "labels": false, "ticks": false, "domainColor": "#777777", "domainWidth": 1}},
    "y": {"field": "v", "type": "quantitative", "scale": {"domain": [0, 20.2], "nice": false},
          "axis": {"orient": "right", "title": null, "tickCount": 40, "values": [0,5,10,15], "labelOverlap": false, "labelExpr": "datum.value == 0 ? '0' : datum.value + 'M'", "domainColor": "#888888"}}
   }},
  {"data": {"name": "vma"}, "mark": {"type": "line", "color": "#ff1a1a", "strokeWidth": 1.6},
   "encoding": {
    "x": {"field": "i", "type": "quantitative"},
    "y": {"field": "m", "type": "quantitative"}
   }}
 ]
}
]
}
